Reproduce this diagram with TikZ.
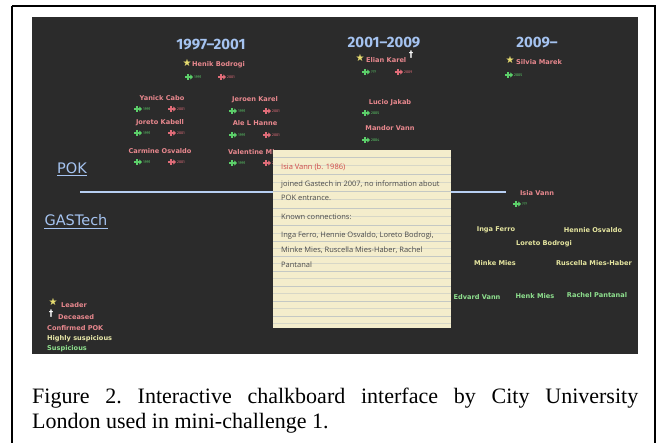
\documentclass[tikz,border=0pt]{standalone}
\usepackage{fontspec}
\setmainfont{Liberation Serif}
\newfontfamily\chalk{Fira Sans}
\newfontfamily\chalkw{DejaVu Sans}
\newfontfamily\hand{Open Sans}
\newfontfamily\sym{DejaVu Sans}
\usetikzlibrary{arrows.meta}
\definecolor{board}{HTML}{2B2B2B}
\definecolor{hdr}{HTML}{A5C3F0}
\definecolor{pinkn}{HTML}{E8888E}
\definecolor{greena}{HTML}{5CD06A}
\definecolor{reda}{HTML}{E06C78}
\definecolor{stary}{HTML}{E8DD70}
\definecolor{yelln}{HTML}{E6E6A0}
\definecolor{greenn}{HTML}{8EE08E}
\definecolor{paper}{HTML}{F4EDCC}
\definecolor{rule}{HTML}{C4C8C4}
\definecolor{cardred}{HTML}{D04848}
\definecolor{cardtxt}{HTML}{4A4A4A}
\tikzset{
  hdrtext/.style={font=\chalk\bfseries\fontsize{15}{15}\selectfont, text=hdr, inner sep=0pt},
  nametext/.style={font=\chalkw\bfseries\fontsize{6.6}{7}\selectfont, inner sep=0pt},
  yrtext/.style={font=\chalk\fontsize{3.8}{4}\selectfont, inner sep=0pt},
  cardtext/.style={font=\hand\fontsize{7.5}{8}\selectfont, text=cardtxt, inner sep=0pt, anchor=base west},
  startxt/.style={font=\sym\fontsize{10}{10}\selectfont, text=stary, inner sep=0pt},
  dagtxt/.style={font=\sym\bfseries\fontsize{9}{9}\selectfont, text=white, inner sep=0pt},
  sectxt/.style={font=\chalkw\fontsize{14.5}{15}\selectfont, text=hdr, inner sep=0pt},
  captext/.style={anchor=base west, inner sep=0pt, font=\fontsize{22}{25}\selectfont\frenchspacing},
}
% year arrow: name, x, y, colour, text
\newcommand\yr[5]{%
  \draw[#4, line width=1.5pt, -{Triangle[length=2.6pt,width=5pt]}] ({#2-4},#3) -- ++(8,0);
  \draw[#4, line width=1.2pt] ({#2-1},{#3-2.6}) -- ({#2-1},{#3+2.6});
  \node[yrtext, text=#4, anchor=west] (#1) at ({#2+5},#3) {#5};}
\begin{document}
\begin{tikzpicture}[x=1pt,y=-1pt]
\useasboundingbox (0,0) rectangle (658,443);
\fill[white] (0,0) rectangle (658,443);
\draw[line width=1.4pt] (12,6) -- (655,6) -- (655,443);
\draw[line width=1.4pt] (12,6) -- (12,443);
% board
\fill[board] (32,17) rectangle (638,354);
% headers
\node[hdrtext] (h1) at (211,45) {1997–2001};
\node[hdrtext] (h2) at (384,43) {2001–2009};
\node[hdrtext] (h3) at (537,43) {2009–};
% 1997-2001
\node[startxt] (s1) at (187,63) {★};
\node[nametext, text=pinkn, anchor=west] (n1) at (192,65) {Henik Bodrogi};
\yr{y1a}{189}{77}{greena}{1991}
\yr{y1b}{222}{77}{reda}{2001}
\node[nametext, text=pinkn] (n2) at (162,98) {Yanick Cabo};
\yr{y2a}{138}{109}{greena}{1991}
\yr{y2b}{172}{109}{reda}{2001}
\node[nametext, text=pinkn] (n3) at (160,123) {Joreto Kabell};
\yr{y3a}{138}{133}{greena}{1991}
\yr{y3b}{172}{133}{reda}{2001}
\node[nametext, text=pinkn] (n4) at (160,151) {Carmine Osvaldo};
\yr{y4a}{138}{162}{greena}{1991}
\yr{y4b}{172}{162}{reda}{2001}
\node[nametext, text=pinkn] (n5) at (255,100) {Jeroen Karel};
\yr{y5a}{233}{111}{greena}{1991}
\yr{y5b}{267}{111}{reda}{2001}
\node[nametext, text=pinkn] (n6) at (255,123) {Ale L Hanne};
\yr{y6a}{233}{135}{greena}{1991}
\yr{y6b}{267}{135}{reda}{2001}
\node[nametext, text=pinkn, anchor=west] (n7) at (228,152) {Valentine Mies};
\yr{y7a}{233}{163}{greena}{1991}
\yr{y7b}{267}{163}{reda}{2001}
% 2001-2009
\node[startxt] (s2) at (360,58) {★};
\node[nametext, text=pinkn, anchor=west] (n8) at (366,60) {Elian Karel};
\node[dagtxt] (d1) at (411,55) {†};
\yr{y8a}{366}{72}{greena}{???}
\yr{y8b}{399}{72}{reda}{2009}
\node[nametext, text=pinkn] (n9) at (390,103) {Lucio Jakab};
\yr{y9a}{366}{113}{greena}{2005}
\node[nametext, text=pinkn] (n10) at (390,128) {Mandor Vann};
\yr{y10a}{366}{140}{greena}{2004}
% 2009-
\node[startxt] (s3) at (510,60) {★};
\node[nametext, text=pinkn, anchor=west] (n11) at (516,62) {Silvia Marek};
\yr{y11a}{509}{75}{greena}{2005}
% sections
\node[sectxt] (pok) at (72,168) {POK};
\draw[hdr, line width=0.6pt] ([yshift=-2pt]pok.south west) -- ([yshift=-2pt]pok.south east);
\node[sectxt] (gas) at (76,220) {GASTech};
\draw[hdr, line width=0.6pt] ([yshift=-2pt]gas.south west) -- ([yshift=-2pt]gas.south east);
\coordinate (lstart) at (80,192);
\coordinate (lend) at (506,192);
\draw[hdr!80!white, line width=1.3pt] (lstart) -- (lend);
% GASTech side
\node[nametext, text=pinkn] (iv) at (537,193) {Isia Vann};
\yr{y12a}{517}{204}{greena}{???}
\node[nametext, text=yelln] (g1) at (496,230) {Inga Ferro};
\node[nametext, text=yelln] (g2) at (593,230) {Hennie Osvaldo};
\node[nametext, text=yelln] (g3) at (544,244) {Loreto Bodrogi};
\node[nametext, text=yelln] (g4) at (495,263) {Minke Mies};
\node[nametext, text=yelln] (g5) at (594,263) {Ruscella Mies-Haber};
\node[nametext, text=greenn] (g6) at (477,297) {Edvard Vann};
\node[nametext, text=greenn] (g7) at (535,296) {Henk Mies};
\node[nametext, text=greenn] (g8) at (597,295) {Rachel Pantanal};
% card
\fill[paper] (273,150) rectangle (451,328);
\foreach \yy in {157,174,191,208,225,241,256,271,286,301,316} {
  \draw[rule, line width=0.5pt] (273,\yy) -- (451,\yy);
}
\foreach \yy in {165.5,182.5,199.5,216.5,233,248.5,263.5,278.5,293.5,308.5,323} {
  \draw[rule!60!paper, line width=0.4pt] (273,\yy) -- (451,\yy);
}
\node[cardtext, text=cardred] (c1) at (281,170) {Isia Vann (b. 1986)};
\node[cardtext] (c2) at (281,187) {joined Gastech in 2007, no information about};
\node[cardtext] (c3) at (281,201) {POK entrance.};
\node[cardtext] (c4) at (281,220) {Known connections:};
\node[cardtext] (c5) at (281,238) {Inga Ferro, Hennie Osvaldo, Loreto Bodrogi,};
\node[cardtext] (c6) at (281,253) {Minke Mies, Ruscella Mies-Haber, Rachel};
\node[cardtext] (c7) at (281,268) {Pantanal};
% legend
\node[startxt] (ls) at (53,302) {★};
\node[nametext, text=pinkn, anchor=west] (l1) at (61,305) {Leader};
\node[dagtxt] (ld) at (51,314) {†};
\node[nametext, text=pinkn, anchor=west] (l2) at (58,317) {Deceased};
\node[nametext, text=pinkn, anchor=west] (l3) at (47,328) {Confirmed POK};
\node[nametext, text=yelln!90!white, anchor=west] (l4) at (47,339) {Highly suspicious};
\node[nametext, text=greenn, anchor=west] (l5) at (47,349) {Suspicious};
% caption
\node[captext] (cap1) at (32,403)
  {\makebox[606pt][s]{Figure 2. Interactive chalkboard interface by City University}};
\node[captext] (cap2) at (32,428) {London used in mini-challenge 1.};
\end{tikzpicture}
\end{document}
